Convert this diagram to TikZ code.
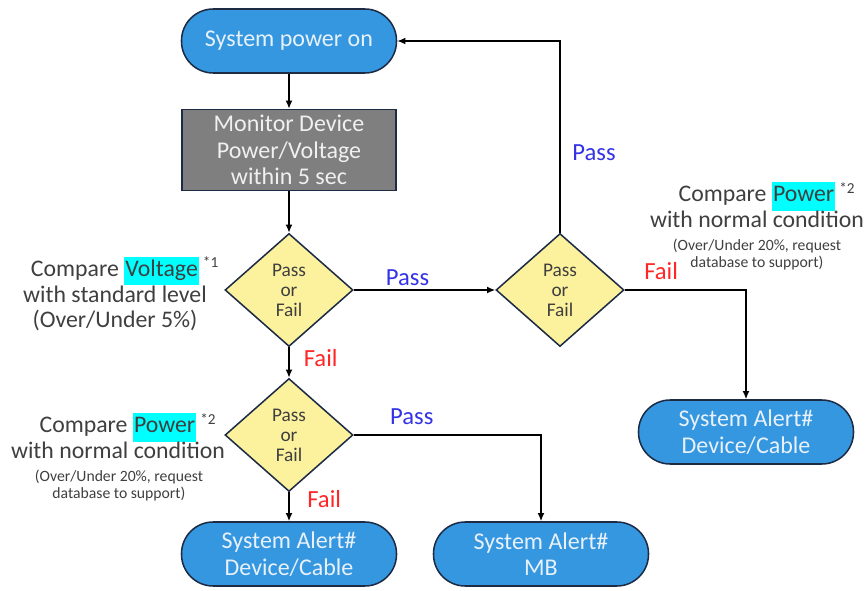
\documentclass[tikz,border=0pt]{standalone}
\usepackage{fontspec}
\setmainfont{Carlito}
\usepackage{xcolor}
\usepackage{tikz}
\usetikzlibrary{shapes.geometric,arrows.meta,positioning}
\definecolor{fcBlue}{HTML}{3497DF}
\definecolor{fcNavy}{HTML}{1D2B45}
\definecolor{fcGrey}{HTML}{7F7F7F}
\definecolor{fcYellow}{HTML}{FCF29E}
\definecolor{fcText}{HTML}{3F3F3F}
\definecolor{fcPass}{HTML}{3333E6}
\definecolor{fcFail}{HTML}{FF2626}
\definecolor{fcHL}{HTML}{00FFFF}
\definecolor{fcLight}{HTML}{E8F1FB}

\tikzset{
  term/.style={rectangle,draw=fcNavy,line width=1.3pt,fill=fcBlue,text=fcLight,
    rounded corners=0.95cm,minimum width=6.45cm,minimum height=1.92cm,inner sep=0pt,
    align=center,font=\fontsize{20.5}{22.5}\selectfont},
  proc/.style={rectangle,draw=fcNavy,line width=1.3pt,fill=fcGrey,text=white!88!fcGrey,
    minimum width=6.42cm,minimum height=2.43cm,inner sep=0pt,
    align=center,font=\fontsize{20.5}{22.5}\selectfont},
  decide/.style={diamond,aspect=1.13,draw=fcNavy,line width=1.3pt,fill=fcYellow,text=fcText,
    minimum width=3.84cm,minimum height=3.39cm,inner sep=0pt,
    align=center,font=\fontsize{16.5}{17}\selectfont},
  flow/.style={-{Latex[length=7pt,width=6pt]},line width=1.3pt},
  pass/.style={text=fcPass,inner sep=0pt,font=\fontsize{21}{23}\selectfont},
  fail/.style={text=fcFail,inner sep=0pt,font=\fontsize{21}{23}\selectfont},
  note/.style={text=fcText,inner sep=0pt,align=center,font=\fontsize{20.3}{22}\selectfont},
  subnote/.style={text=fcText,inner sep=0pt,align=center,font=\fontsize{13.4}{14.5}\selectfont}
}
\newcommand{\hlword}[1]{{\setlength{\fboxsep}{1pt}\colorbox{fcHL}{\strut #1}}}
\newcommand{\noteref}[1]{\rlap{\,\raisebox{0.75ex}{\fontsize{13}{14}\selectfont *#1}}}

\begin{document}
\begin{tikzpicture}[x=0.03cm,y=-0.03cm]
\useasboundingbox (0,0) rectangle (865,591);
\node[term] (start) at (289,41) {System power on};
\node[proc] (mon) at (289,150) {Monitor Device\\ Power/Voltage\\ within 5 sec};
\node[decide] (volt) at (289,290) {Pass\\ or\\ Fail};
\node[decide] (powL) at (289,435) {Pass\\ or\\ Fail};
\node[decide] (powR) at (560,290) {Pass\\ or\\ Fail};
\node[term] (alertL) at (289,554) {System Alert\#\\ Device/Cable};
\node[term] (alertMB) at (541,554) {System Alert\#\\ MB};
\node[term] (alertR) at (746,432) {System Alert\#\\ Device/Cable};

\node[note] (noteV) at (115,294) {Compare \hlword{Voltage}\noteref{1}\\ with standard level\\ (Over/Under 5\%)};
\node[note] (notePL) at (118,436) {Compare \hlword{Power}\noteref{2}\\ with normal condition};
\node[subnote] (subPL) at (119,486) {(Over/Under 20\%, request\\ database to support)};
\node[note] (notePR) at (757,205) {Compare \hlword{Power}\noteref{2}\\ with normal condition};
\node[subnote] (subPR) at (757,255) {(Over/Under 20\%, request\\ database to support)};

\draw[flow] (start) -- (mon);
\draw[flow] (mon) -- (volt);
\draw[flow] (volt) -- node[pass,pos=0.38,above=3pt]{Pass} (powR);
\draw[flow] (volt) -- node[fail,pos=0.35,anchor=west,xshift=12pt]{Fail} (powL);
\draw[flow] (powR.north) |- node[pass,pos=0.21,anchor=west,xshift=10pt]{Pass} (start.east);
\draw[flow] (powR.east) -| node[fail,pos=0.15,above=8pt]{Fail} (alertR.north);
\draw[flow] (powL.east) -| node[pass,pos=0.155,above=8pt]{Pass} (alertMB.north);
\draw[flow] (powL) -- node[fail,pos=0.22,anchor=west,xshift=15pt]{Fail} (alertL);
\end{tikzpicture}
\end{document}
